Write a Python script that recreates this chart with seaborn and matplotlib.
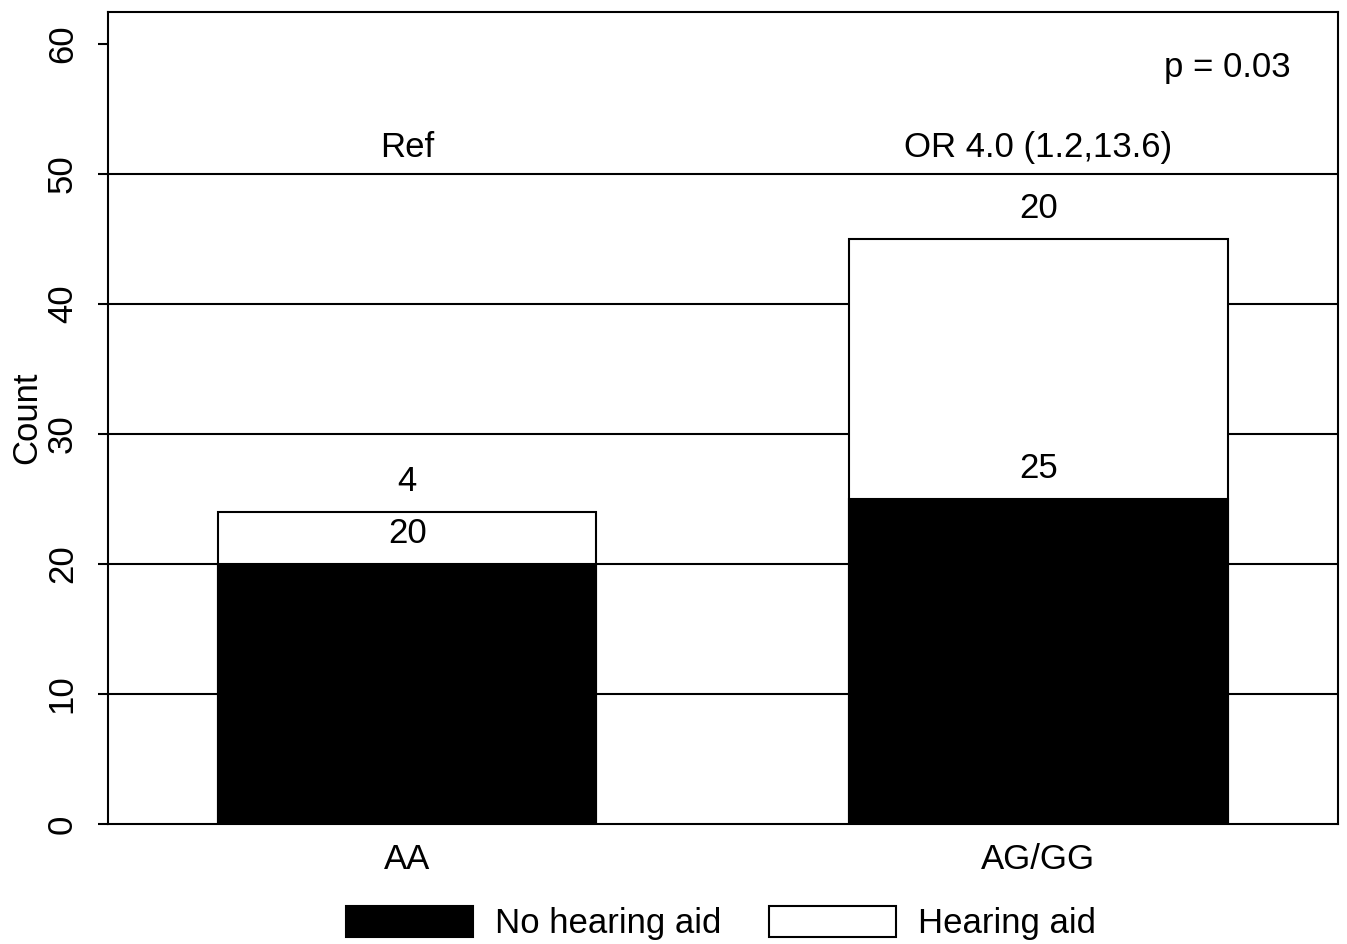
import matplotlib
matplotlib.use("Agg")
import matplotlib.pyplot as plt
from matplotlib.patches import Patch
import seaborn as sns
import pandas as pd

# Genotype groups and counts of participants with / without a hearing aid
genotypes = ["AA", "AG/GG"]
no_hearing_aid = [20, 25]
hearing_aid = [4, 20]
group_notes = ["Ref", "OR 4.0 (1.2,13.6)"]
p_text = "p = 0.03"
y_ticks = [0, 10, 20, 30, 40, 50, 60]
grid_levels = [10, 20, 30, 40, 50]

sns.set_theme(style="white")
plt.rcParams["font.family"] = ["Liberation Sans", "DejaVu Sans"]
plt.rcParams.update({"text.color": "black", "axes.labelcolor": "black",
                     "xtick.color": "black", "ytick.color": "black"})
FS = 25

df = pd.DataFrame({
    "genotype": genotypes,
    "none": no_hearing_aid,
    "aid": hearing_aid,
})
df["total"] = df["none"] + df["aid"]

fig = plt.figure(figsize=(13.47, 9.44), dpi=100)
ax = fig.add_axes([0.0802, 0.1271, 0.9131, 0.8602])

for lvl in grid_levels:
    ax.axhline(lvl, color="black", lw=1.5, zorder=0)

# stacked bars: full height in white, lower segment in black on top
sns.barplot(data=df, x="genotype", y="total", color="white", edgecolor="black",
            linewidth=1.5, width=0.6, saturation=1, ax=ax, zorder=2)
sns.barplot(data=df, x="genotype", y="none", color="black", edgecolor="black",
            linewidth=1.5, width=0.6, saturation=1, ax=ax, zorder=3)

ax.set_xlim(-0.474, 1.475)
ax.set_ylim(0, 62.46)

# segment counts just above each segment's top
for i, row in df.iterrows():
    for top, val in ((row["none"], row["none"]), (row["total"], row["aid"])):
        ax.annotate(str(val), xy=(i, top), xytext=(0, 10), textcoords="offset points",
                    ha="center", va="bottom", fontsize=FS, zorder=5)
    ax.text(i, 52.0, group_notes[i], ha="center", va="center", fontsize=FS)

ax.text(1.40, 58.2, p_text, ha="right", va="center", fontsize=FS)

ax.set_yticks(y_ticks)
ax.set_yticklabels([str(t) for t in y_ticks], rotation=90, va="center", fontsize=FS)
ax.tick_params(axis="y", left=True, length=7, width=1.5, pad=14, color="black")
ax.tick_params(axis="x", bottom=False, length=0, pad=14, labelsize=FS)
ax.set_xlabel("")
ax.set_ylabel("Count", fontsize=FS, labelpad=2)

for sp in ax.spines.values():
    sp.set_visible(True)
    sp.set_color("black")
    sp.set_linewidth(1.5)

handles = [Patch(facecolor="black", edgecolor="black", lw=1.5, label="No hearing aid"),
           Patch(facecolor="white", edgecolor="black", lw=1.5, label="Hearing aid")]
fig.legend(handles=handles, loc="center", bbox_to_anchor=(0.535, 0.022), ncol=2,
           frameon=False, fontsize=FS, handlelength=3.66, handleheight=1.0,
           handletextpad=0.63, columnspacing=1.37)

fig.savefig("out.png", dpi=100)
